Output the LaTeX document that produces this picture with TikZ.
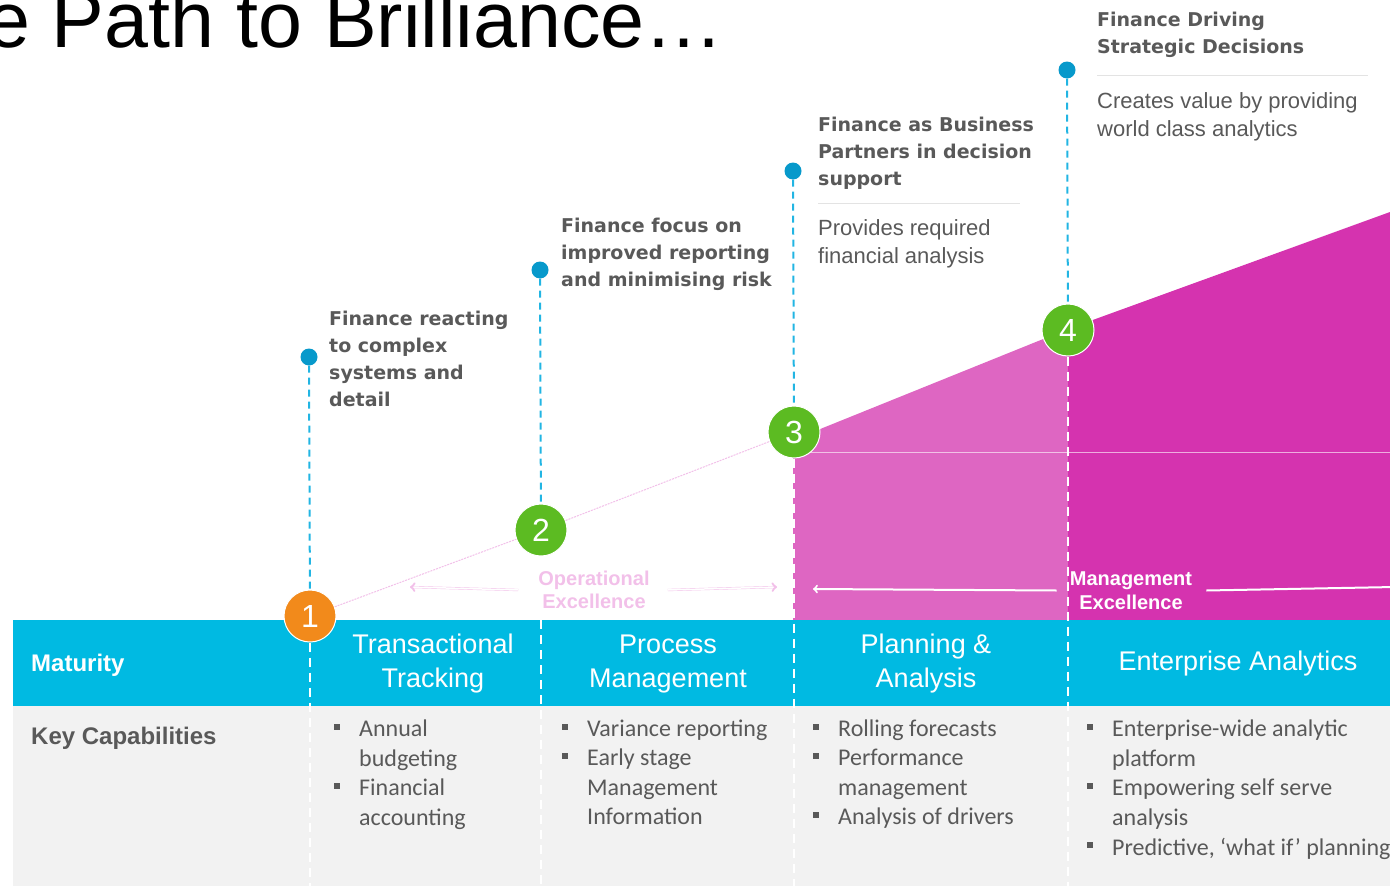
\documentclass[tikz,border=0pt]{standalone}
\usepackage{fontspec}
\setmainfont{Liberation Sans}
\newfontfamily\lbfont{DejaVu Sans}
\newfontfamily\kcfont{Carlito}
\definecolor{mcyan}{HTML}{00BAE2}
\definecolor{mgrey}{HTML}{F2F2F2}
\definecolor{mtext}{HTML}{595959}
\definecolor{mrule}{HTML}{E3E3E3}
\definecolor{mpinkA}{HTML}{DE66C2}
\definecolor{mpinkB}{HTML}{D533AF}
\definecolor{mpinkL}{HTML}{F2C0E9}
\definecolor{mgreen}{HTML}{5CBB22}
\definecolor{morange}{HTML}{F28A1B}
\definecolor{mdot}{HTML}{0799CB}
\definecolor{mdash}{HTML}{22B5E3}

\begin{document}
\begin{tikzpicture}[x=1pt,y=-1pt,
    stage/.style={circle,draw=white,line width=1pt,minimum size=52pt,inner sep=0pt,
      text=white,font=\fontsize{32}{32}\selectfont},
    pin/.style={circle,fill=mdot,minimum size=17pt,inner sep=0pt},
    guide/.style={mdash,line width=2pt,dash pattern=on 7pt off 5pt},
    divider/.style={white,line width=1.5pt,dash pattern=on 9pt off 6pt},
    heading/.style={text=white,align=center,font=\fontsize{27}{34}\selectfont},
    stagehead/.style={anchor=north west,inner sep=0pt,align=left,text=mtext,
      font=\lbfont\bfseries\fontsize{19}{27}\selectfont},
    stagenote/.style={anchor=north west,inner sep=0pt,align=left,text=mtext,
      font=\fontsize{22}{27.5}\selectfont},
    capitem/.style={anchor=north west,inner sep=0pt,align=left,text=mtext,
      font=\kcfont\fontsize{24}{29.5}\selectfont},
    capbullet/.style={fill=mtext,minimum size=6pt,inner sep=0pt}]

  \useasboundingbox (0,0) rectangle (1390,886);
  \clip (0,0) rectangle (1390,886);

  \node (title) [anchor=base east,inner sep=0pt,font=\fontsize{79}{79}\selectfont]
    at (724,47) {e Path to Brilliance…};

  \fill[mpinkA] (793,440) -- (1068,329) -- (1068,620) -- (793,620) -- cycle;
  \fill[mpinkB] (1068,329) -- (1390,212) -- (1390,620) -- (1068,620) -- cycle;
  \draw[white,opacity=.6,line width=.8pt] (793,452) -- (1390,452);

  \fill[mcyan] (13,620) rectangle (1390,706);
  \fill[mgrey] (13,706) rectangle (1390,886);

  \coordinate (top) at (0,620);
  \coordinate (floor) at (0,886);

  \foreach \i/\x/\y/\py/\col in {1/310/616/357/morange, 2/541/530/270/mgreen,
                                 3/794/432/171/mgreen, 4/1068/330/70/mgreen} {
    \node[pin] (p\i) at (\x-1,\py) {};
    \node[stage,fill=\col] (c\i) at (\x,\y) {\i};
    \draw[guide] (p\i) -- (c\i);
  }

  \draw[mpinkL,line width=1pt,dash pattern=on 2pt off 1pt] (c1) -- (c2);
  \draw[mpinkL,line width=1pt,dash pattern=on 2pt off 1pt] (c2) -- (c3);

  \foreach \i in {1,3,4}
    \draw[divider] (c\i.south) -- (c\i.south |- floor);
  \draw[divider] (c2 |- top) -- (c2 |- floor);

  \node[stagehead] (h1) at (329,310.5) {Finance reacting\\to complex\\systems and\\detail};
  \node[stagehead] (h2) at (561,217.5) {Finance focus on\\improved reporting\\and minimising risk};
  \node[stagehead] (h3) at (818,116.5) {Finance as Business\\Partners in decision\\support};
  \node[stagehead] (h4) at (1097,11.5) {Finance Driving\\Strategic Decisions};
  \draw[mrule,line width=1pt] (818,203) -- (1020,203);
  \draw[mrule,line width=1pt] (1097,75) -- (1368,75);
  \node[stagenote] (n3) at (818,219.5) {Provides required\\financial analysis};
  \node[stagenote] (n4) at (1097,92.5) {Creates value by providing\\world class analytics};

  \node (opx) [align=center,inner sep=0pt,text=mpinkL,
    font=\bfseries\fontsize{20}{23}\selectfont] at (594,590) {Operational\\Excellence};
  \coordinate (opl) at (410,587);
  \coordinate (opr) at (777,587);
  \draw[->,draw=mpinkL,double=white,double distance=1.5pt] ([xshift=-20pt]opx.west) -- (opl);
  \draw[->,draw=mpinkL,double=white,double distance=1.5pt] ([xshift=18pt]opx.east) -- (opr);

  \node (mgx) [align=center,inner sep=0pt,text=white,
    font=\bfseries\fontsize{20}{24}\selectfont] at (1131,590.5) {Management\\Excellence};
  \coordinate (mgl) at (813,589);
  \coordinate (mgr) at (1395,587);
  \draw[->,white,line width=2pt] ([xshift=-13pt]mgx.west) -- (mgl);
  \draw[->,white,line width=2pt] ([xshift=14pt]mgx.east) -- (mgr);

  \node (mat) [anchor=west,inner sep=0pt,text=white,font=\bfseries\fontsize{24}{24}\selectfont]
    at (31,665) {Maturity};
  \node (keycap) [anchor=west,inner sep=0pt,text=mtext,font=\bfseries\fontsize{24}{24}\selectfont]
    at (31,738) {Key Capabilities};

  \foreach \x/\t [count=\i] in {433/{Transactional\\Tracking}, 668/{Process\\Management},
                                926/{Planning \&\\Analysis}, 1238/{Enterprise Analytics}}
    \node[heading] (m\i) at (\x,664) {\t};

  \foreach \x/\y/\t [count=\i] in {359/728/{Annual\\budgeting}, 359/787/{Financial\\accounting},
      587/728/{Variance reporting}, 587/757/{Early stage\\Management\\Information},
      838/728/{Rolling forecasts}, 838/757/{Performance\\management}, 838/816/{Analysis of drivers},
      1112/728/{Enterprise-wide analytic\\platform}, 1112/787/{Empowering self serve\\analysis},
      1112/846/{Predictive, ‘what if’ planning}} {
    \node[capbullet] (b\i) at (\x-22,\y-1) {};
    \node[capitem] (k\i) at (\x,\y-8) {\t};
  }
\end{tikzpicture}
\end{document}
